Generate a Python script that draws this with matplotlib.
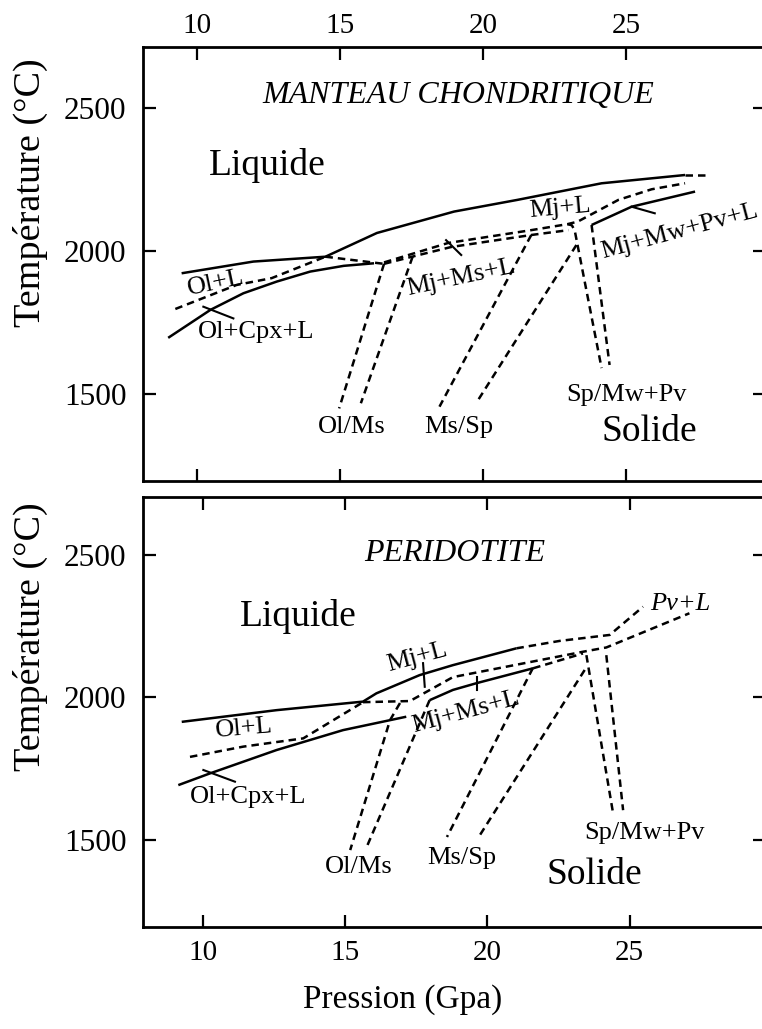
#!/usr/bin/env python3
"""
Diagramme de phases P-T : manteau chondritique et péridotite
"""
import matplotlib
matplotlib.use('Agg')
import matplotlib.pyplot as plt

plt.rcParams['font.family'] = ['Liberation Serif', 'DejaVu Serif']

# ---------------------------------------------------------------
# Données : manteau chondritique (panneau du haut)
# ---------------------------------------------------------------
ch_liq_P = [9.45, 11.96, 14.48, 16.28, 18.98, 21.2, 24.14, 27.06]
ch_liq_T = [1922, 1963, 1980, 2063, 2138, 2179, 2237, 2266]
ch_liq_ext_P = [27.06, 27.82]
ch_liq_ext_T = [2266, 2266]

ch_ol_low_P = [9.23, 11.37, 12.6, 14.48]
ch_ol_low_T = [1797, 1881, 1905, 1980]
ch_kink_P = [14.48, 16.53]
ch_kink_T = [1980, 1955]

ch_cpx_P = [8.98, 10.46, 11.61, 12.78, 13.95, 15.12, 16.18]
ch_cpx_T = [1696, 1794, 1852, 1893, 1928, 1948, 1957]

ch_mjl_P = [16.53, 18.77, 21.68, 22.95, 23.31, 24.73, 25.89, 27.06]
ch_mjl_T = [1960, 2028, 2073, 2094, 2103, 2179, 2216, 2237]
ch_mjms_P = [16.53, 17.47, 18.88, 21.68, 22.98]
ch_mjms_T = [1955, 1979, 2014, 2056, 2073]

ch_sp1_P = [22.95, 23.1, 23.2, 24.14]
ch_sp1_T = [2094, 2090, 2072, 1590]
ch_sp2_P = [23.79, 24.42]
ch_sp2_T = [2091, 1601]
ch_mw_P = [23.79, 25.19, 27.41]
ch_mw_T = [2091, 2155, 2208]

ch_mssp1_P = [21.68, 18.47]
ch_mssp1_T = [2056, 1455]
ch_mssp2_P = [23.26, 19.75]
ch_mssp2_T = [2021, 1467]
ch_olms1_P = [16.53, 14.96]
ch_olms1_T = [1955, 1449]
ch_olms2_P = [17.53, 15.72]
ch_olms2_T = [1980, 1467]

# traits de repère (étiquette -> courbe)
ch_leaders = [
    ([10.21, 11.26], [1805, 1764]),
    ([18.7, 19.23], [2038, 1986]),
    ([25.19, 26.0], [2155, 2132]),
]

# ---------------------------------------------------------------
# Données : péridotite (panneau du bas)
# ---------------------------------------------------------------
pe_liq_P = [9.26, 12.59, 15.63, 16.1, 17.62, 18.79, 21.02]
pe_liq_T = [1913, 1954, 1984, 2013, 2077, 2112, 2171]
pe_liq_ext_P = [21.02, 22.54, 24.3, 25.47]
pe_liq_ext_T = [2171, 2197, 2218, 2317]

pe_mjl_P = [15.63, 17.28, 18.79, 23.36, 24.18, 27.1]
pe_mjl_T = [1982, 1986, 2070, 2159, 2174, 2294]

pe_mjms_P = [17.97, 18.79, 19.63, 21.61]
pe_mjms_T = [1989, 2025, 2049, 2101]
pe_mjms_ext_P = [21.61, 23.36]
pe_mjms_ext_T = [2101, 2153]

pe_ol_low_P = [9.55, 11.42, 13.53, 15.63]
pe_ol_low_T = [1790, 1826, 1855, 1982]

pe_cpx_P = [9.14, 10.25, 12.59, 14.93, 17.15]
pe_cpx_T = [1691, 1732, 1814, 1884, 1931]

pe_sp1_P = [23.48, 24.41]
pe_sp1_T = [2147, 1597]
pe_sp2_P = [24.18, 24.77]
pe_sp2_T = [2147, 1603]

pe_olms1_P = [16.93, 16.58, 15.18]
pe_olms1_T = [1979, 1919, 1463]
pe_olms2_P = [17.97, 15.76]
pe_olms2_T = [1989, 1474]
pe_mssp1_P = [21.6, 18.58]
pe_mssp1_T = [2102, 1509]
pe_mssp2_P = [23.42, 19.74]
pe_mssp2_T = [2095, 1516]

pe_leaders = [
    ([10.02, 11.13], [1744, 1703]),
    ([17.74, 17.8], [2119, 2036]),
    ([19.62, 19.62], [2071, 2025]),
]

# ticks
x_ticks = [10, 15, 20, 25]
y_ticks = [1500, 2000, 2500]

LW = 1.8
DASH = (3.0, 2.0)


def solid(ax, P, T):
    ax.plot(P, T, color='black', lw=LW, solid_capstyle='butt')


def dashed(ax, P, T):
    ax.plot(P, T, color='black', lw=LW, dashes=DASH)


def style_axes(ax, xlim, ylim, top_labels):
    ax.set_xlim(*xlim)
    ax.set_ylim(*ylim)
    ax.set_xticks(x_ticks)
    ax.set_yticks(y_ticks)
    for s in ax.spines.values():
        s.set_linewidth(2.0)
    ax.tick_params(axis='both', direction='in', length=9, width=1.6,
                   top=True, right=True)
    ax.tick_params(axis='y', pad=12, labelsize=22.5)
    if top_labels:
        ax.tick_params(axis='x', labeltop=True, labelbottom=False, pad=6,
                       labelsize=21)
    else:
        ax.tick_params(axis='x', pad=9, labelsize=21)


fig = plt.figure(figsize=(7.62, 10.29), dpi=100)
ax1 = fig.add_axes([0.1877, 0.5326, 0.816, 0.4217])
ax2 = fig.add_axes([0.1877, 0.0991, 0.816, 0.4179])

# ----- panneau du haut -----
style_axes(ax1, (8.1, 29.85), (1195, 2714), True)
solid(ax1, ch_liq_P, ch_liq_T)
dashed(ax1, ch_liq_ext_P, ch_liq_ext_T)
dashed(ax1, ch_ol_low_P, ch_ol_low_T)
dashed(ax1, ch_kink_P, ch_kink_T)
solid(ax1, ch_cpx_P, ch_cpx_T)
dashed(ax1, ch_mjl_P, ch_mjl_T)
dashed(ax1, ch_mjms_P, ch_mjms_T)
dashed(ax1, ch_sp1_P, ch_sp1_T)
dashed(ax1, ch_sp2_P, ch_sp2_T)
solid(ax1, ch_mw_P, ch_mw_T)
dashed(ax1, ch_mssp1_P, ch_mssp1_T)
dashed(ax1, ch_mssp2_P, ch_mssp2_T)
dashed(ax1, ch_olms1_P, ch_olms1_T)
dashed(ax1, ch_olms2_P, ch_olms2_T)
for P, T in ch_leaders:
    ax1.plot(P, T, color='black', lw=1.5)

lab = dict(ha='center', va='center', fontsize=19, clip_on=False)
ax1.text(19.12, 2546, 'MANTEAU CHONDRITIQUE', style='italic',
         ha='center', va='center', fontsize=23)
ax1.text(12.46, 2301, 'Liquide', ha='center', va='center', fontsize=27)
ax1.text(10.63, 1888, 'Ol+L', rotation=12, **lab)
ax1.text(12.04, 1716, 'Ol+Cpx+L', **lab)
ax1.text(19.23, 1906, 'Mj+Ms+L', rotation=12, **lab)
ax1.text(22.67, 2150, 'Mj+L', rotation=5, **lab)
ax1.text(26.85, 2070, 'Mj+Mw+Pv+L', rotation=15, **lab)
ax1.text(15.4, 1384, 'Ol/Ms', **lab)
ax1.text(19.16, 1384, 'Ms/Sp', **lab)
ax1.text(25.02, 1496, 'Sp/Mw+Pv', **lab)
ax1.text(25.82, 1366, 'Solide', ha='center', va='center', fontsize=27)

# ----- panneau du bas -----
style_axes(ax2, (7.9, 29.75), (1193, 2702), False)
solid(ax2, pe_liq_P, pe_liq_T)
dashed(ax2, pe_liq_ext_P, pe_liq_ext_T)
dashed(ax2, pe_mjl_P, pe_mjl_T)
solid(ax2, pe_mjms_P, pe_mjms_T)
dashed(ax2, pe_mjms_ext_P, pe_mjms_ext_T)
dashed(ax2, pe_ol_low_P, pe_ol_low_T)
solid(ax2, pe_cpx_P, pe_cpx_T)
dashed(ax2, pe_sp1_P, pe_sp1_T)
dashed(ax2, pe_sp2_P, pe_sp2_T)
dashed(ax2, pe_olms1_P, pe_olms1_T)
dashed(ax2, pe_olms2_P, pe_olms2_T)
dashed(ax2, pe_mssp1_P, pe_mssp1_T)
dashed(ax2, pe_mssp2_P, pe_mssp2_T)
for P, T in pe_leaders:
    ax2.plot(P, T, color='black', lw=1.5)

ax2.text(18.86, 2504, 'PERIDOTITE', style='italic',
         ha='center', va='center', fontsize=23)
ax2.text(13.37, 2284, 'Liquide', ha='center', va='center', fontsize=27)
ax2.text(17.53, 2140, 'Mj+L', rotation=15, **lab)
ax2.text(11.46, 1888, 'Ol+L', rotation=5, **lab)
ax2.text(11.6, 1649, 'Ol+Cpx+L', **lab)
ax2.text(19.25, 1947, 'Mj+Ms+L', rotation=15, **lab)
ax2.text(15.49, 1403, 'Ol/Ms', **lab)
ax2.text(19.1, 1435, 'Ms/Sp', **lab)
ax2.text(23.77, 1375, 'Solide', ha='center', va='center', fontsize=27)
ax2.text(25.53, 1523, 'Sp/Mw+Pv', **lab)
ax2.text(26.79, 2326, 'Pv+L', style='italic', **lab)

fig.text(30 / 762, 1 - 193 / 1029, 'Température (°C)', rotation=90,
         ha='center', va='center', fontsize=27.5)
fig.text(30 / 762, 1 - 637 / 1029, 'Température (°C)', rotation=90,
         ha='center', va='center', fontsize=27.5)
fig.text(403 / 762, 1 - 1000 / 1029, 'Pression (Gpa)',
         ha='center', va='center', fontsize=24)

fig.savefig('out.png', dpi=100)
